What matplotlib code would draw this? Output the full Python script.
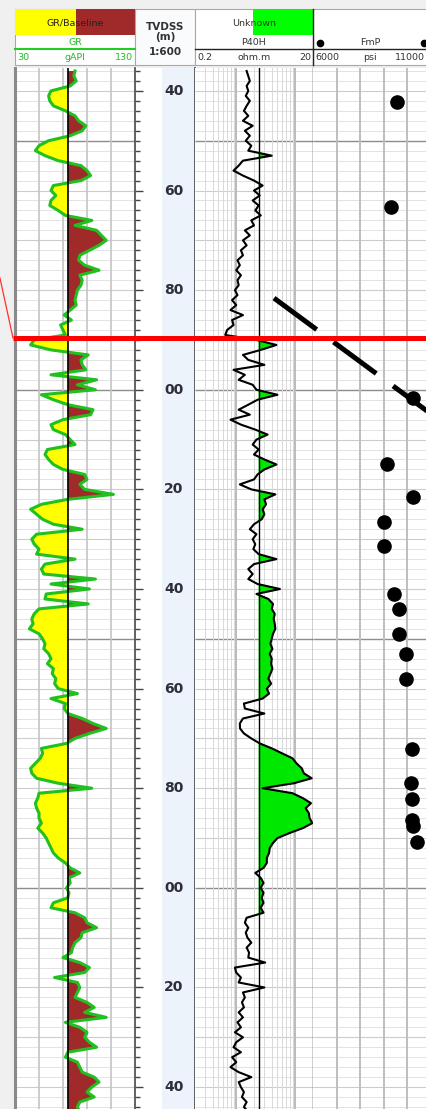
import numpy as np
import matplotlib
matplotlib.use("Agg")
import matplotlib.pyplot as plt
from matplotlib.patches import Rectangle
from matplotlib.ticker import FixedLocator, MultipleLocator

# ---------------- data ----------------
BASE = 2700
depth_m = BASE + np.arange(36, 246)          # 1 m sampling, 2736..2945 m TVDSS

gr_api = np.array([
    80, 79, 81, 76, 60, 58, 59, 62, 72, 80,
    83, 89, 86, 76, 58, 50, 47, 55, 66, 85,
    90, 93, 85, 62, 60, 64, 60, 59, 66, 72,
    94, 80, 98, 102, 106, 100, 92, 84, 83, 88,
    100, 84, 86, 85, 82, 81, 80, 81, 76, 71,
    77, 68, 70, 72, 46, 43, 60, 91, 85, 86,
    89, 60, 98, 82, 97, 52, 62, 74, 95, 93,
    70, 60, 62, 72, 76, 80, 57, 55, 58, 62,
    70, 88, 90, 84, 88, 112, 74, 52, 43, 48,
    53, 62, 86, 48, 44, 46, 50, 48, 80, 55,
    52, 54, 97, 60, 92, 56, 55, 91, 50, 46,
    44, 45, 42, 50, 53, 55, 54, 58, 60, 57,
    62, 61, 64, 63, 66, 82, 60, 72, 71, 74,
    86, 95, 106, 92, 80, 73, 52, 53, 51, 47,
    43, 44, 48, 66, 94, 50, 49, 47, 48, 50,
    50, 52, 49, 53, 56, 58, 60, 62, 66, 72,
    76, 84, 75, 76, 73, 75, 74, 62, 60, 80,
    88, 90, 98, 86, 85, 80, 78, 77, 70, 84,
    92, 88, 63, 82, 84, 82, 80, 90, 96, 88,
    106, 72, 84, 90, 88, 92, 98, 74, 72, 82,
    84, 86, 96, 100, 94, 90, 96, 84, 82, 84,
], dtype=float)

p40h_ohmm = np.array([
    1.5, 1.6, 1.7, 1.5, 1.6, 1.45, 1.7, 1.5, 1.35, 1.6,
    1.3, 1.9, 1.4, 1.7, 1.45, 1.8, 1.6, 4.0, 1.3, 1.1,
    0.9, 1.3, 2.0, 2.8, 2.0, 2.5, 1.9, 2.4, 2.1, 2.6,
    1.8, 2.0, 1.4, 1.7, 1.3, 1.5, 1.2, 1.3, 1.05, 1.15,
    1.0, 1.2, 1.05, 1.1, 0.95, 1.05, 0.85, 1.0, 0.8, 1.3,
    0.85, 0.9, 0.7, 0.65, 2.2, 4.8, 2.6, 1.3, 1.6, 3.0,
    0.9, 1.4, 1.1, 1.9, 2.2, 5.0, 2.3, 1.6, 1.1, 1.7,
    0.8, 1.2, 2.1, 3.4, 2.2, 1.9, 2.4, 2.0, 3.0, 4.8,
    3.0, 2.3, 2.0, 1.15, 1.8, 4.6, 3.0, 3.2, 2.8, 3.0,
    2.7, 2.0, 1.7, 2.2, 1.9, 2.1, 1.95, 2.4, 4.8, 2.0,
    1.6, 1.9, 1.6, 2.3, 5.5, 2.2, 3.5, 4.2, 4.0, 4.5,
    4.3, 4.5, 4.6, 4.2, 4.0, 3.8, 4.1, 3.7, 4.0, 3.9,
    4.1, 3.8, 3.5, 3.9, 3.3, 3.6, 2.8, 1.35, 1.4, 3.0,
    1.3, 1.15, 1.16, 1.35, 1.8, 2.5, 4.0, 6.0, 9.0, 10.5,
    12.9, 14.0, 19.0, 9.5, 2.8, 9.0, 13.5, 18.5, 15.0, 17.0,
    17.5, 19.5, 13.5, 8.0, 5.0, 4.2, 3.7, 3.6, 3.3, 3.3,
    2.9, 2.1, 2.6, 2.9, 2.6, 2.9, 2.7, 2.9, 2.6, 2.9,
    1.5, 1.4, 1.6, 1.45, 1.55, 1.8, 1.5, 1.65, 1.6, 3.1,
    0.95, 1.0, 1.2, 1.1, 3.0, 1.3, 1.4, 1.25, 1.35, 1.1,
    1.3, 1.05, 1.2, 0.95, 1.3, 1.0, 0.9, 1.2, 0.85, 1.0,
    0.8, 1.1, 1.8, 1.1, 1.2, 1.35, 1.25, 1.5, 1.35, 1.6,
])

fmp_depth = [2742.2, 2763.3, 2801.7, 2814.9, 2821.5, 2826.6, 2831.4, 2841.0, 2844.0,
             2849.0, 2853.1, 2858.1, 2872.1, 2879.0, 2882.2, 2886.4, 2887.6, 2890.8]
fmp_psi = [9559, 9305, 10237, 9136, 10237, 9008, 9008, 9432, 9644,
           9644, 9941, 9941, 10195, 10153, 10195, 10195, 10237, 10407]

gradient_psi = [4348, 11500]
gradient_depth = [2781.6, 2806.6]

TOP_DEPTH = 2789.6          # red marker line
CORR_DEPTH = 2777.6         # start of the thin correlation line
GR_BASELINE = 74.0
RES_CUTOFF = 2.4
label_depths = [2740, 2760, 2780, 2800, 2820, 2840, 2860, 2880, 2900, 2920, 2940]

# ---------------- layout ----------------
W, H = 426, 1109
BODY_TOP = 68
DMIN, DMAX = 2735.4, 2944.4

fig = plt.figure(figsize=(W / 100, H / 100), dpi=100, facecolor='#F0F0F0')


def body_axes(x0, x1, **kw):
    return fig.add_axes([x0 / W, 0, (x1 - x0) / W, 1 - BODY_TOP / H], **kw)


def hgrid(ax):
    d = np.arange(2736, 2946, 2)
    minor = d[(d % 10) != 0]
    mid = d[((d % 10) == 0) & ((d % 50) != 0)]
    major = d[(d % 50) == 0]
    ax.hlines(minor, 0, 1, transform=ax.get_yaxis_transform(), color='#E3E3E3', lw=0.7, zorder=0.2)
    ax.hlines(mid, 0, 1, transform=ax.get_yaxis_transform(), color='#CCCCCC', lw=0.8, zorder=0.2)
    ax.hlines(major, 0, 1, transform=ax.get_yaxis_transform(), color='#8C8C8C', lw=1.0, zorder=0.3)


def clean(ax):
    ax.set_xticks([])
    ax.set_yticks([])
    for s in ax.spines.values():
        s.set_visible(False)
    ax.set_ylim(DMAX, DMIN)

# ---------------- header ----------------
axh = fig.add_axes([0, 0, 1, 1])
axh.set_xlim(0, W)
axh.set_ylim(H, 0)
axh.axis('off')
axh.patch.set_alpha(0)

FS = 6.8
# GR header
axh.add_patch(Rectangle((15, 9), 120, 56, facecolor='white', edgecolor='#A8A8A8', lw=0.8))
axh.add_patch(Rectangle((15, 9), 61, 26, facecolor='#FFFF00', lw=0))
axh.add_patch(Rectangle((76, 9), 59, 26, facecolor='#A02A2A', lw=0))
axh.text(75, 23, 'GR/Baseline', ha='center', va='center', fontsize=FS, color='#222222')
axh.text(75, 42.5, 'GR', ha='center', va='center', fontsize=FS, color='#22BB22')
axh.plot([15, 135], [49, 49], color='#22CC22', lw=1.5)
axh.text(17, 58, '30', ha='left', va='center', fontsize=FS, color='#22BB22')
axh.text(75, 58, 'gAPI', ha='center', va='center', fontsize=FS, color='#22BB22')
axh.text(133, 58, '130', ha='right', va='center', fontsize=FS, color='#22BB22')

# depth header
axh.add_patch(Rectangle((135, 9), 60, 56, facecolor='#FAFBFD', edgecolor='#A8A8A8', lw=0.8))
for txt, yy in [('TVDSS', 27), ('(m)', 36.5), ('1:600', 52)]:
    axh.text(165, yy, txt, ha='center', va='center', fontsize=7.5, fontweight='bold', color='#333333')

# resistivity header
axh.add_patch(Rectangle((195, 9), 118, 56, facecolor='white', edgecolor='#A8A8A8', lw=0.8))
axh.add_patch(Rectangle((253, 9), 60, 26, facecolor='#00FF00', lw=0))
axh.text(254, 23.5, 'Unknown', ha='center', va='center', fontsize=FS, color='#333333')
axh.text(254, 42.5, 'P40H', ha='center', va='center', fontsize=FS, color='#333333')
axh.plot([195, 313], [49, 49], color='#222222', lw=1.0)
axh.text(197, 58, '0.2', ha='left', va='center', fontsize=FS, color='#333333')
axh.text(254, 58, 'ohm.m', ha='center', va='center', fontsize=FS, color='#333333')
axh.text(311, 58, '20', ha='right', va='center', fontsize=FS, color='#333333')

# pressure header
axh.add_patch(Rectangle((313, 9), 118, 56, facecolor='white', edgecolor='#A8A8A8', lw=0.8))
axh.plot([313, 313], [9, 65], color='#222222', lw=1.0)
axh.plot([320, 424], [43, 43], ls='none', marker='o', ms=4.5, color='black')
axh.text(370, 42.5, 'FmP', ha='center', va='center', fontsize=FS, color='#333333')
axh.plot([313, 431], [49, 49], color='#222222', lw=1.0)
axh.text(315, 58, '6000', ha='left', va='center', fontsize=FS, color='#333333')
axh.text(370, 58, 'psi', ha='center', va='center', fontsize=FS, color='#333333')
axh.text(425, 58, '11000', ha='right', va='center', fontsize=FS, color='#333333')

# ---------------- GR track ----------------
ax_gr = body_axes(15, 135)
clean(ax_gr)
ax_gr.set_xlim(30, 130)
hgrid(ax_gr)
for v in [50, 70, 90, 110]:
    ax_gr.axvline(v, color='#C4C4C4', lw=1.2, zorder=0.4)
ax_gr.fill_betweenx(depth_m, gr_api, GR_BASELINE, where=gr_api < GR_BASELINE,
                    interpolate=True, color='#FFFF00', lw=0, zorder=1)
ax_gr.fill_betweenx(depth_m, gr_api, GR_BASELINE, where=gr_api > GR_BASELINE,
                    interpolate=True, color='#A02A2A', lw=0, zorder=1)
ax_gr.plot(gr_api, depth_m, color='#1FC01F', lw=2.2, zorder=2)
ax_gr.axvline(GR_BASELINE, color='black', lw=1.2, zorder=3)
ax_gr.spines['left'].set_visible(True)
ax_gr.spines['left'].set_color('#8A8A8A')
ax_gr.spines['left'].set_linewidth(2.2)

# ---------------- depth track ----------------
ax_d = body_axes(135, 195)
ax_d.set_xlim(0, 60)
ax_d.set_ylim(DMAX, DMIN)
ax_d.axvspan(27, 60, color='#EDF3FB', lw=0, zorder=0)
for s in ['top', 'bottom']:
    ax_d.spines[s].set_visible(False)
for s in ['left', 'right']:
    ax_d.spines[s].set_color('#555555')
    ax_d.spines[s].set_linewidth(1.3)
ax_d.set_xticks([])
ax_d.yaxis.set_major_locator(FixedLocator(label_depths))
ax_d.yaxis.set_minor_locator(MultipleLocator(2))
ax_d.tick_params(axis='y', which='both', direction='in', left=True, right=False,
                 labelleft=False, color='#444444', width=1.0)
ax_d.tick_params(axis='y', which='major', length=6)
ax_d.tick_params(axis='y', which='minor', length=3.8)
for d in label_depths:
    ax_d.text(39, d, f'{d % 100:02d}', ha='center', va='center', fontsize=10,
              fontweight='bold', color='#2E2E3A')

# ---------------- resistivity track ----------------
ax_r = body_axes(195, 313)
clean(ax_r)
ax_r.set_xscale('log')
ax_r.set_xlim(0.2, 20)
ax_r.set_xticks([])
ax_r.set_xticks([], minor=True)
hgrid(ax_r)
for v in [0.3, 0.4, 0.5, 0.6, 0.7, 0.8, 0.9, 2, 3, 4, 5, 6, 7, 8, 9]:
    ax_r.axvline(v, color='#D9D9D9', lw=0.7, zorder=0.3)
for v in [1, 10]:
    ax_r.axvline(v, color='#BBBBBB', lw=1.4, zorder=0.4)
ax_r.fill_betweenx(depth_m, p40h_ohmm, RES_CUTOFF, where=p40h_ohmm > RES_CUTOFF,
                   interpolate=True, color='#00E800', lw=0, zorder=1)
ax_r.plot(p40h_ohmm, depth_m, color='black', lw=1.5, zorder=2)
ax_r.axvline(RES_CUTOFF, color='black', lw=1.0, zorder=3)
ax_r.spines['right'].set_visible(True)
ax_r.spines['right'].set_color('#111111')
ax_r.spines['right'].set_linewidth(1.0)

# ---------------- pressure track ----------------
ax_p = body_axes(313, 431)
clean(ax_p)
ax_p.set_xlim(6000, 11000)
hgrid(ax_p)
for v in [7000, 8000, 9000, 10000]:
    ax_p.axvline(v, color='#BEBEBE', lw=1.4, zorder=0.4)
ax_p.plot(fmp_psi, fmp_depth, ls='none', marker='o', ms=9.5, color='black', zorder=3)
ax_p.plot(gradient_psi, gradient_depth, color='black', lw=3.6, dashes=(10.6, 4.2),
          solid_capstyle='butt', dash_capstyle='butt', clip_on=False, zorder=4)

# ---------------- top marker overlay ----------------
ax_o = body_axes(0, W)
ax_o.set_xlim(0, W)
ax_o.set_ylim(DMAX, DMIN)
ax_o.axis('off')
ax_o.patch.set_alpha(0)
ax_o.hlines(TOP_DEPTH, 13, W, color='#FF0000', lw=3.6, zorder=5)
ax_o.plot([0, 13], [CORR_DEPTH, TOP_DEPTH], color='#FF3030', lw=0.9, zorder=5)

fig.savefig('out.png', dpi=100, facecolor=fig.get_facecolor())
